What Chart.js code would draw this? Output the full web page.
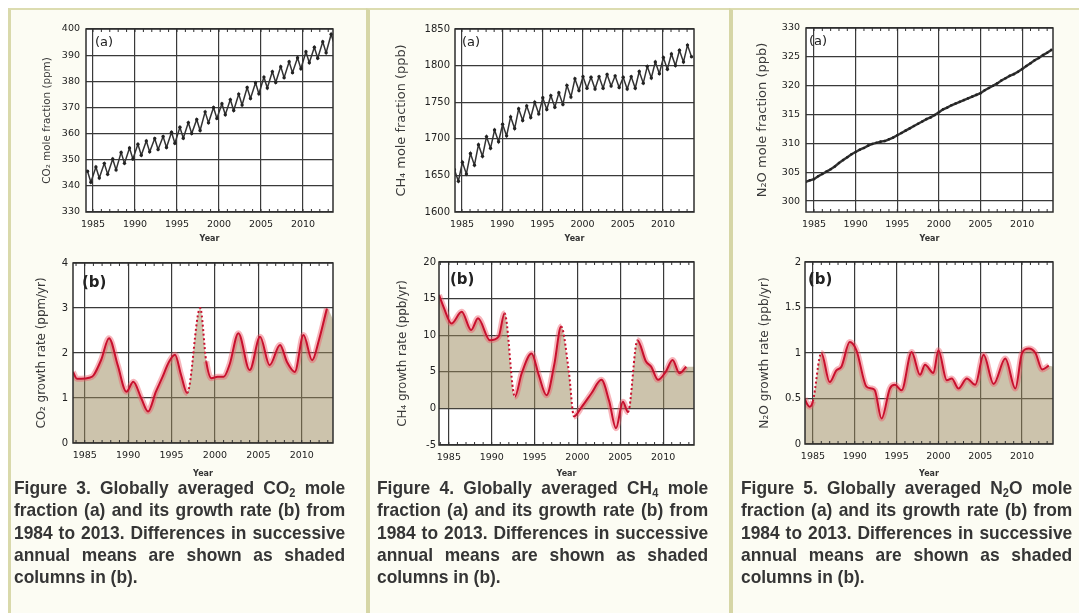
<!DOCTYPE html>
<html lang="en">
<head>
  <meta charset="UTF-8" />
  <title>Globally averaged CO2, CH4 and N2O</title>

  <!-- Chart.js for all six plots -->
  <script src="https://cdn.jsdelivr.net/npm/chart.js"></script>

  <style>
    body {
      margin: 0;
      width: 1079px;
      height: 613px;
      position: relative;
      overflow: hidden;
      background: #fff;
      font-family: "Liberation Sans", Arial, sans-serif;
    }

    /* cream panels with khaki rules */
    .panel {
      position: absolute;
      top: 8px;
      bottom: 0;
      background: #fcfcf3;
      border-top: 2px solid #dcdcb0;
    }
    #p1 { left: 8px; width: 356px; border-left: 3px solid #d9d9ab; }
    #p2 { left: 366px; width: 361px; border-left: 4px solid #d6d6a6; }
    #p3 { left: 729px; width: 350px; border-left: 4px solid #d6d6a6; }

    canvas { position: absolute; }

    /* figure captions, one block per printed line, squeezed to a condensed look */
    .caption {
      position: absolute;
      top: 477px;
      width: 331px;
      font-size: 19px;
      font-weight: bold;
      line-height: 22.3px;
      color: #353535;
    }
    .caption span {
      display: block;
      width: 362px;
      text-align: justify;
      text-align-last: justify;
      transform: scaleX(0.915);
      transform-origin: left center;
    }
    .caption span.last { text-align-last: left; }
    .caption sub { font-size: 12px; line-height: 0; vertical-align: -3px; }
  </style>
</head>
<body>
  <div class="panel" id="p1"></div>
  <div class="panel" id="p2"></div>
  <div class="panel" id="p3"></div>

  <canvas id="co2Chart"></canvas>
  <canvas id="co2RateChart"></canvas>
  <canvas id="ch4Chart"></canvas>
  <canvas id="ch4RateChart"></canvas>
  <canvas id="n2oChart"></canvas>
  <canvas id="n2oRateChart"></canvas>

  <div class="caption" style="left:14px">
    <span>Figure 3. Globally averaged CO<sub>2</sub> mole</span>
    <span>fraction (a) and its growth rate (b) from</span>
    <span>1984 to 2013. Differences in successive</span>
    <span>annual means are shown as shaded</span>
    <span class="last">columns in (b).</span>
  </div>
  <div class="caption" style="left:377px">
    <span>Figure 4. Globally averaged CH<sub>4</sub> mole</span>
    <span>fraction (a) and its growth rate (b) from</span>
    <span>1984 to 2013. Differences in successive</span>
    <span>annual means are shown as shaded</span>
    <span class="last">columns in (b).</span>
  </div>
  <div class="caption" style="left:741px">
    <span>Figure 5. Globally averaged N<sub>2</sub>O mole</span>
    <span>fraction (a) and its growth rate (b) from</span>
    <span>1984 to 2013. Differences in successive</span>
    <span>annual means are shown as shaded</span>
    <span class="last">columns in (b).</span>
  </div>

  <script>
    // ---- data ----

    const yearTicks = [1985, 1990, 1995, 2000, 2005, 2010];
    const years = [1984, 1985, 1986, 1987, 1988, 1989, 1990, 1991, 1992, 1993,
                   1994, 1995, 1996, 1997, 1998, 1999, 2000, 2001, 2002, 2003,
                   2004, 2005, 2006, 2007, 2008, 2009, 2010, 2011, 2012, 2013];

    // (a) CO2 seasonal high / low each year (ppm)
    const co2High = [345.6, 347.2, 348.6, 350.3, 352.8, 354.5, 355.9, 357.2, 358.1, 358.9,
                     360.5, 362.4, 364.2, 365.4, 368.3, 370.0, 371.4, 373.0, 375.1, 377.6,
                     379.4, 381.6, 383.7, 385.6, 387.5, 389.0, 391.3, 393.0, 395.1, 398.0];
    const co2Low = [341.4, 343.0, 344.4, 346.1, 348.6, 350.3, 351.7, 353.0, 353.9, 354.7,
                    356.3, 358.2, 360.0, 361.2, 364.1, 365.8, 367.2, 368.8, 370.9, 373.4,
                    375.2, 377.4, 379.5, 381.4, 383.3, 384.8, 387.1, 388.8, 390.9, 393.8];
    const co2Ticks = [330, 340, 350, 360, 370, 380, 390, 400];

    // (a) CH4 seasonal high / low each year (ppb)
    const ch4High = [1658, 1668, 1680, 1692, 1703, 1712, 1720, 1730, 1741, 1745,
                     1750, 1756, 1759, 1763, 1773, 1782, 1785, 1784, 1785, 1788,
                     1786, 1784, 1785, 1792, 1799, 1805, 1811, 1816, 1821, 1828];
    const ch4Low = [1642, 1652, 1664, 1676, 1687, 1696, 1704, 1714, 1725, 1729,
                    1734, 1740, 1743, 1747, 1757, 1766, 1769, 1768, 1769, 1772,
                    1770, 1768, 1769, 1776, 1783, 1789, 1795, 1800, 1805, 1812];
    const ch4Ticks = [1600, 1650, 1700, 1750, 1800, 1850];

    // (a) N2O, January and July of each year (ppb)
    const n2oJan = [303.3, 303.8, 304.7, 305.5, 306.6, 307.6, 308.5, 309.2, 309.9, 310.3,
                    310.7, 311.4, 312.2, 313.0, 313.8, 314.5, 315.4, 316.2, 316.9, 317.5,
                    318.1, 318.7, 319.6, 320.4, 321.3, 322.0, 322.9, 323.9, 324.8, 325.7];
    const n2oJul = [303.6, 304.3, 305.1, 306.0, 307.1, 308.1, 308.9, 309.6, 310.1, 310.4,
                    311.0, 311.8, 312.6, 313.4, 314.2, 314.9, 315.9, 316.6, 317.2, 317.8,
                    318.4, 319.2, 320.0, 320.9, 321.7, 322.4, 323.4, 324.4, 325.3, 326.2];
    const n2oTicks = [300, 305, 310, 315, 320, 325, 330];

    // (b) CO2 growth rate (ppm/yr)
    const co2RateYears = [1983.65, 1984.1, 1984.6, 1985.5, 1986.0, 1986.9, 1987.8, 1988.8, 1989.8, 1990.6,
                          1991.5, 1992.3, 1993.2, 1993.9, 1994.7, 1995.4, 1996.1, 1996.8, 1998.3, 1999.0,
                          1999.6, 2000.3, 2001.0, 2001.7, 2002.7, 2004.0, 2005.2, 2006.3, 2007.5, 2008.3,
                          2009.2, 2010.2, 2011.2, 2012.0, 2012.9];
    const co2Rate = [1.58, 1.43, 1.43, 1.45, 1.5, 1.85, 2.33, 1.73, 1.14, 1.36,
                     1.0, 0.70, 1.14, 1.44, 1.8, 1.96, 1.51, 1.11, 3.0, 1.81,
                     1.44, 1.47, 1.47, 1.75, 2.44, 1.62, 2.36, 1.73, 2.18, 1.8,
                     1.58, 2.40, 1.84, 2.3, 2.99];
    const co2RateDotted = [[1996.8, 1999.0]];
    const co2ShadeEnd = 2.75;
    const co2RateTicks = [0, 1, 2, 3, 4];

    // (b) CH4 growth rate (ppb/yr)
    const ch4RateYears = [1983.85, 1984.4, 1985.3, 1986.5, 1987.6, 1988.4, 1989.8, 1990.8, 1991.5, 1992.7,
                          1993.5, 1994.65, 1995.5, 1996.4, 1997.3, 1998.1, 1999.0, 1999.6, 2000.5, 2001.6,
                          2002.8, 2003.7, 2004.5, 2005.3, 2005.9, 2007.0, 2008.0, 2008.6, 2009.4, 2010.3,
                          2011.1, 2011.9, 2012.7];
    const ch4Rate = [15.5, 13.8, 11.6, 13.2, 10.7, 12.3, 9.3, 9.8, 13.0, 1.6,
                     4.8, 7.5, 4.5, 1.8, 6.0, 11.2, 5.0, -1.1, 0.2, 2.0,
                     3.9, 1.0, -2.7, 0.9, -0.5, 9.3, 6.4, 5.7, 3.9, 5.0,
                     6.6, 4.8, 5.7];
    const ch4RateDotted = [[1991.5, 1992.7], [1998.1, 1999.6], [2005.9, 2007.0]];
    const ch4ShadeEnd = 5.7;
    const ch4RateTicks = [-5, 0, 5, 10, 15, 20];

    // (b) N2O growth rate (ppb/yr)
    const n2oRateYears = [1984.0, 1984.3, 1984.6, 1985.0, 1986.0, 1987.0, 1987.8, 1988.4, 1989.4, 1990.2,
                          1991.4, 1992.0, 1992.4, 1993.2, 1994.2, 1994.8, 1995.6, 1996.8, 1997.8, 1998.4,
                          1999.4, 2000.0, 2001.0, 2001.6, 2002.4, 2003.4, 2004.4, 2005.4, 2006.6, 2008.0,
                          2009.2, 2010.0, 2010.8, 2011.6, 2012.4, 2013.2];
    const n2oRate = [0.5, 0.44, 0.41, 0.47, 1.0, 0.68, 0.81, 0.85, 1.12, 1.03,
                     0.63, 0.61, 0.59, 0.28, 0.61, 0.65, 0.59, 1.01, 0.76, 0.87,
                     0.78, 1.03, 0.70, 0.72, 0.61, 0.72, 0.65, 0.98, 0.66, 0.94,
                     0.61, 1.0, 1.05, 1.0, 0.82, 0.86];
    const n2oRateDotted = [[1985.0, 1986.0]];
    const n2oShadeEnd = 0.85;
    const n2oRateTicks = [0, 0.5, 1, 1.5, 2];

    // ---- helpers ----

    Chart.defaults.font.family = '"DejaVu Sans", sans-serif';
    Chart.defaults.color = '#222';

    // two points per year give the seasonal saw-tooth
    function seasonal(high, low, highAt, lowAt) {
      const pts = [];
      years.forEach((yr, i) => {
        const a = { x: yr + highAt, y: high[i] };
        const b = { x: yr + lowAt, y: low[i] };
        if (highAt < lowAt) pts.push(a, b); else pts.push(b, a);
      });
      return pts;
    }

    function pairs(xs, ys) {
      return xs.map((x, i) => ({ x: x, y: ys[i] }));
    }

    // white plot area, frame, minor year ticks and the (a)/(b) tag
    const framePlugin = {
      id: 'frame',
      beforeDraw(chart) {
        const { ctx, chartArea: a } = chart;
        ctx.save();
        ctx.fillStyle = '#fff';
        ctx.fillRect(a.left, a.top, a.right - a.left, a.bottom - a.top);
        ctx.restore();
      },
      afterDraw(chart, args, opts) {
        const { ctx, chartArea: a, scales } = chart;
        ctx.save();
        ctx.strokeStyle = '#2e2e2e';
        ctx.lineWidth = 1.5;
        ctx.strokeRect(a.left, a.top, a.right - a.left, a.bottom - a.top);
        ctx.lineWidth = 1;
        ctx.beginPath();
        for (let yr = Math.ceil(scales.x.min); yr <= scales.x.max; yr++) {
          const px = scales.x.getPixelForValue(yr);
          ctx.moveTo(px, a.top); ctx.lineTo(px, a.top + 3);
          ctx.moveTo(px, a.bottom); ctx.lineTo(px, a.bottom - 3);
        }
        ctx.stroke();
        ctx.fillStyle = '#222';
        ctx.font = opts.font;
        ctx.textBaseline = 'middle';
        ctx.fillText(opts.label, a.left + opts.dx, a.top + opts.dy);
        ctx.restore();
      }
    };

    function makeChart(id, box, datasets, ax) {
      const canvas = document.getElementById(id);
      canvas.width = box.w;
      canvas.height = box.h;
      canvas.style.left = box.x + 'px';
      canvas.style.top = box.y + 'px';

      const grid = { color: '#3a3a3a', lineWidth: 1.2, drawTicks: false };

      return new Chart(canvas.getContext('2d'), {
        type: 'line',
        data: { datasets: datasets },
        plugins: [framePlugin],
        options: {
          responsive: false,
          animation: false,
          events: [],
          layout: { padding: { top: box.padTop, right: box.padRight, left: 0, bottom: 0 } },
          plugins: {
            legend: { display: false },
            tooltip: { enabled: false },
            frame: { label: ax.tag, dx: ax.tagDx, dy: ax.tagDy, font: ax.tagFont }
          },
          scales: {
            x: {
              type: 'linear',
              min: ax.xMin,
              max: ax.xMax,
              afterBuildTicks: s => { s.ticks = yearTicks.map(v => ({ value: v })); },
              afterFit: s => { s.height = box.xH; },
              ticks: { callback: v => String(v), font: { size: 9.5 }, padding: 7, autoSkip: false, maxRotation: 0 },
              grid: grid,
              border: { display: false },
              title: { display: true, text: 'Year', font: { size: 8, weight: 'bold' }, color: '#333', padding: 0 }
            },
            y: {
              min: ax.yMin,
              max: ax.yMax,
              afterBuildTicks: s => { s.ticks = ax.yTicks.map(v => ({ value: v })); },
              afterFit: s => { s.width = box.yW; },
              ticks: { callback: v => String(v), font: { size: ax.tickSize }, padding: ax.tickPad },
              grid: grid,
              border: { display: false },
              title: { display: true, text: ax.yTitle, font: { size: ax.titleSize }, color: '#3a3a3a', padding: 0 }
            }
          }
        }
      });
    }

    // dark saw-tooth series for the (a) plots
    function levelDataset(points, width, radius) {
      return [{
        data: points,
        borderColor: '#333',
        borderWidth: width,
        pointRadius: radius,
        pointBackgroundColor: '#222',
        pointBorderWidth: 0,
        tension: 0
      }];
    }

    // red growth curve with pink halo, dotted gaps, and tan shading beneath
    function rateDatasets(xs, ys, dotted, shadeEnd, xMax) {
      const pts = pairs(xs, ys);
      const isDotted = c => dotted.some(r => c.p0.parsed.x >= r[0] - 0.01 && c.p1.parsed.x <= r[1] + 0.01);
      return [
        {
          data: pts, order: 0,
          borderColor: '#c8102e', borderWidth: 2, pointRadius: 0,
          cubicInterpolationMode: 'monotone',
          segment: { borderDash: c => isDotted(c) ? [2, 2.5] : undefined }
        },
        {
          data: pts, order: 1,
          borderColor: 'rgba(238,90,105,0.45)', borderWidth: 6, pointRadius: 0,
          cubicInterpolationMode: 'monotone',
          segment: { borderColor: c => isDotted(c) ? 'rgba(0,0,0,0)' : undefined }
        },
        {
          data: pts.concat([{ x: xMax, y: shadeEnd }]), order: 2,
          borderColor: 'rgba(0,0,0,0)', borderWidth: 0, pointRadius: 0,
          cubicInterpolationMode: 'monotone',
          fill: { target: 'origin', above: 'rgba(153,135,89,0.5)', below: 'rgba(0,0,0,0)' }
        }
      ];
    }

    // ---- the six plots ----

    const tagA = '13px "DejaVu Sans", sans-serif';
    const tagB = 'bold 15px "DejaVu Sans", sans-serif';

    makeChart('co2Chart',
      { x: 41, y: 17, w: 304, h: 227, padTop: 12, padRight: 12, yW: 45, xH: 32 },
      levelDataset(seasonal(co2High, co2Low, 0.35, 0.75), 1.5, 1.7),
      { xMin: 1984.17, xMax: 2013.57, yMin: 330, yMax: 400, yTicks: co2Ticks,
        yTitle: 'CO\u2082 mole fraction (ppm)', titleSize: 10.4, tickSize: 9.5, tickPad: 6,
        tag: '(a)', tagDx: 9, tagDy: 14, tagFont: tagA });

    makeChart('co2RateChart',
      { x: 35, y: 250, w: 310, h: 229, padTop: 13, padRight: 12, yW: 38, xH: 36 },
      rateDatasets(co2RateYears, co2Rate, co2RateDotted, co2ShadeEnd, 2013.6),
      { xMin: 1983.65, xMax: 2013.6, yMin: 0, yMax: 4, yTicks: co2RateTicks,
        yTitle: 'CO\u2082 growth rate (ppm/yr)', titleSize: 11.9, tickSize: 10, tickPad: 5,
        tag: '(b)', tagDx: 9, tagDy: 20, tagFont: tagB });

    makeChart('ch4Chart',
      { x: 394, y: 17, w: 314, h: 227, padTop: 12, padRight: 14, yW: 61, xH: 32 },
      levelDataset(seasonal(ch4High, ch4Low, 0.05, 0.55), 1.5, 1.7),
      { xMin: 1984.13, xMax: 2013.86, yMin: 1600, yMax: 1850, yTicks: ch4Ticks,
        yTitle: 'CH\u2084 mole fraction (ppb)', titleSize: 12.9, tickSize: 10, tickPad: 5,
        tag: '(a)', tagDx: 7, tagDy: 14, tagFont: tagA });

    makeChart('ch4RateChart',
      { x: 396, y: 250, w: 312, h: 229, padTop: 12, padRight: 14, yW: 43, xH: 34 },
      rateDatasets(ch4RateYears, ch4Rate, ch4RateDotted, ch4ShadeEnd, 2013.6),
      { xMin: 1983.85, xMax: 2013.6, yMin: -5, yMax: 20, yTicks: ch4RateTicks,
        yTitle: 'CH\u2084 growth rate (ppb/yr)', titleSize: 11.9, tickSize: 10, tickPad: 3,
        tag: '(b)', tagDx: 11, tagDy: 18, tagFont: tagB });

    makeChart('n2oChart',
      { x: 755, y: 16, w: 313, h: 228, padTop: 12, padRight: 15, yW: 51, xH: 32 },
      levelDataset(seasonal(n2oJan, n2oJul, 0.0, 0.5), 2.4, 1.3),
      { xMin: 1984.04, xMax: 2013.7, yMin: 298.1, yMax: 330, yTicks: n2oTicks,
        yTitle: 'N\u2082O mole fraction (ppb)', titleSize: 13, tickSize: 9.5, tickPad: 6,
        tag: '(a)', tagDx: 3, tagDy: 14, tagFont: tagA });

    makeChart('n2oRateChart',
      { x: 758, y: 250, w: 310, h: 229, padTop: 12, padRight: 15, yW: 47, xH: 35 },
      rateDatasets(n2oRateYears, n2oRate, n2oRateDotted, n2oShadeEnd, 2013.7),
      { xMin: 1984.05, xMax: 2013.7, yMin: 0, yMax: 2, yTicks: n2oRateTicks,
        yTitle: 'N\u2082O growth rate (ppb/yr)', titleSize: 12.2, tickSize: 10, tickPad: 4,
        tag: '(b)', tagDx: 3, tagDy: 18, tagFont: tagB });
  </script>
</body>
</html>
